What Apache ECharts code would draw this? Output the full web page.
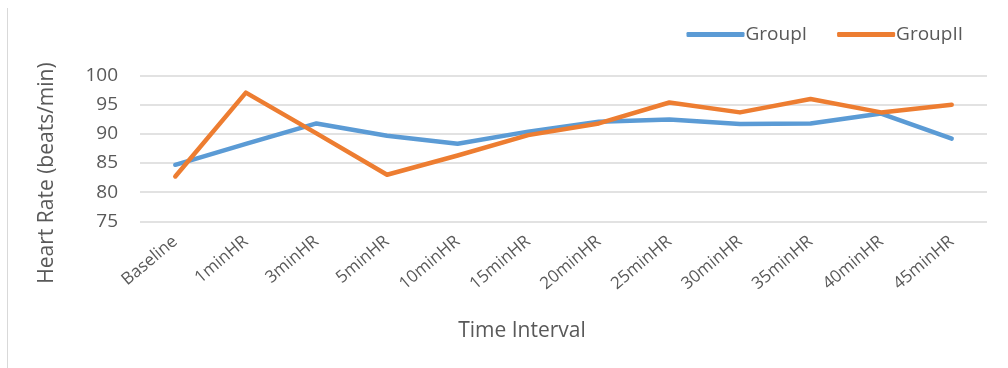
<!DOCTYPE html>
<html>
<head>
<meta charset="utf-8">
<script src="https://cdn.jsdelivr.net/npm/echarts@6/dist/echarts.min.js"></script>
<style>
  html, body { margin: 0; padding: 0; background: #ffffff; }
  #chart { width: 1008px; height: 368px; }
</style>
</head>
<body>
<div id="chart"></div>
<script>
// Time points along the x axis
const categories = ['Baseline', '1minHR', '3minHR', '5minHR', '10minHR', '15minHR',
  '20minHR', '25minHR', '30minHR', '35minHR', '40minHR', '45minHR'];

// Mean heart rate (beats/min) per group
const groupI  = [84.7, 88.3, 91.8, 89.7, 88.3, 90.4, 92.1, 92.5, 91.7, 91.8, 93.5, 89.2];
const groupII = [82.7, 97.1, 90.1, 83.0, 86.3, 89.8, 91.8, 95.4, 93.7, 96.0, 93.7, 95.0];

// Y axis range and step
const yMin = 75, yMax = 100, yStep = 5;

const font = '"Open Sans", "Noto Sans", sans-serif';
const textColor = '#595959';

const chart = echarts.init(document.getElementById('chart'), null, { renderer: 'canvas' });

chart.setOption({
  backgroundColor: '#ffffff',
  animation: false,
  textStyle: { fontFamily: font },
  graphic: [
    {
      type: 'line',
      shape: { x1: 7.5, y1: 8, x2: 7.5, y2: 368 },
      style: { stroke: '#d9d9d9', lineWidth: 1 }
    },
    {
      // y axis title
      type: 'text',
      x: 47, y: 173,
      rotation: Math.PI / 2,
      style: {
        text: 'Heart Rate (beats/min)',
        fill: textColor,
        font: '21px ' + font,
        align: 'center',
        verticalAlign: 'middle'
      }
    },
    {
      // x axis title
      type: 'text',
      x: 522, y: 331,
      style: {
        text: 'Time Interval',
        fill: textColor,
        font: '21px ' + font,
        align: 'center',
        verticalAlign: 'middle'
      }
    }
  ],
  legend: {
    top: 20,
    right: 40,
    itemWidth: 58,
    itemHeight: 5,
    itemGap: 30,
    icon: 'roundRect',
    textStyle: { color: textColor, fontSize: 19, fontFamily: font, padding: [0, 0, 0, -4] },
    data: ['GroupI', 'GroupII']
  },
  grid: { left: 140, right: 21, top: 75.7, bottom: 146.7, containLabel: false },
  xAxis: {
    type: 'category',
    data: categories,
    boundaryGap: true,
    axisLine: { show: false },
    axisTick: { show: false },
    axisLabel: { rotate: 40, color: textColor, fontSize: 17, margin: 18, interval: 0, fontFamily: font }
  },
  yAxis: {
    type: 'value',
    min: yMin,
    max: yMax,
    interval: yStep,
    axisLine: { show: false },
    axisTick: { show: false },
    axisLabel: { color: textColor, fontSize: 19, margin: 22, fontFamily: font },
    splitLine: { lineStyle: { color: '#d9d9d9', width: 1.5 } }
  },
  series: [
    {
      name: 'GroupI',
      type: 'line',
      data: groupI,
      symbol: 'none',
      color: '#5B9BD5',
      lineStyle: { width: 4.5, color: '#5B9BD5', cap: 'round', join: 'round' }
    },
    {
      name: 'GroupII',
      type: 'line',
      data: groupII,
      symbol: 'none',
      color: '#ED7D31',
      lineStyle: { width: 4.5, color: '#ED7D31', cap: 'round', join: 'round' }
    }
  ]
});
</script>
</body>
</html>
